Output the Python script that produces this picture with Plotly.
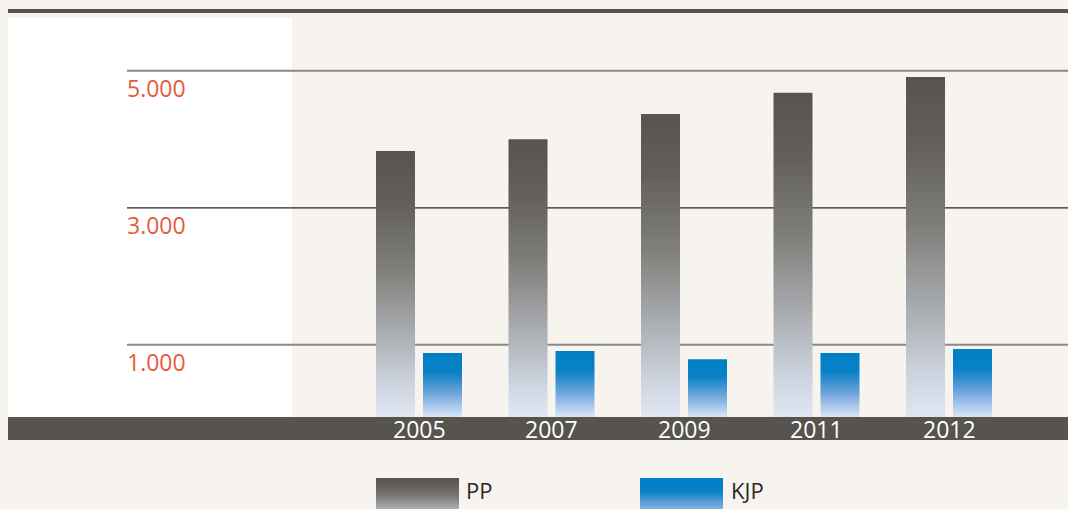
import plotly.graph_objects as go

# ---- data ----
years = ["2005", "2007", "2009", "2011", "2012"]
pp_values = [3830, 4000, 4370, 4680, 4910]
kjp_values = [880, 910, 790, 880, 940]
tick_values = [1000, 3000, 5000]
tick_labels = ["1.000", "3.000", "5.000"]
series_names = ["PP", "KJP"]

# ---- geometry / style ----
W, H = 1068, 509
PX_PER_CAT = 132.5
X0 = -419 / PX_PER_CAT
X1 = X0 + W / PX_PER_CAT
Y_ZERO_PX = 413.3
PX_PER_UNIT = 0.0685
Y_TOP = Y_ZERO_PX / PX_PER_UNIT
Y_BOT = (Y_ZERO_PX - H) / PX_PER_UNIT
BAR_W = 39 / PX_PER_CAT
OFFSET = 23.5 / PX_PER_CAT
BASE = -60

BG = "#f7f4ef"
DARK = "#57534e"
LABEL_RED = "#e85a3e"
FONT = "Open Sans"

PP_SCALE = [[0.0, "#e0e7f3"], [0.12, "#ced5e0"], [0.32, "#a9acb0"],
            [0.56, "#7f7e7a"], [0.80, "#63605b"], [1.0, "#57534e"]]
KJP_SCALE = [[0.0, "#dbe8f8"], [0.35, "#76a9dd"], [0.70, "#0a80c6"], [1.0, "#0080c5"]]


def px(xp):
    return xp / W


def py(yp):
    return 1 - yp / H


fig = go.Figure()


def add_bar(xc, val, scale):
    xl, xr = xc - BAR_W / 2, xc + BAR_W / 2
    fig.add_trace(go.Scatter(
        x=[xl, xr, xr, xl, xl], y=[BASE, BASE, val, val, BASE],
        mode="lines", line=dict(width=0), fill="toself",
        fillgradient=dict(type="vertical", colorscale=scale),
        hoverinfo="skip", showlegend=False))


for i, (p, k) in enumerate(zip(pp_values, kjp_values)):
    add_bar(i - OFFSET, p, PP_SCALE)
    add_bar(i + OFFSET, k, KJP_SCALE)

# legend swatches in pixel space (xaxis2 / yaxis2)
for (x_l, x_r), scale in [((376, 459), PP_SCALE), ((640, 723), KJP_SCALE)]:
    yt, yb = H - 478, H - 522
    fig.add_trace(go.Scatter(
        x=[x_l, x_r, x_r, x_l, x_l], y=[yb, yb, yt, yt, yb],
        xaxis="x2", yaxis="y2",
        mode="lines", line=dict(width=0), fill="toself",
        fillgradient=dict(type="vertical", colorscale=scale),
        hoverinfo="skip", showlegend=False))

shapes = [
    # white panel
    dict(type="rect", xref="paper", yref="paper", x0=px(8), x1=px(292), y0=py(417), y1=py(18),
         fillcolor="white", line=dict(width=0), layer="below"),
    # top rule
    dict(type="rect", xref="paper", yref="paper", x0=px(8), x1=1, y0=py(13), y1=py(9),
         fillcolor=DARK, line=dict(width=0), layer="above"),
    # bottom band
    dict(type="rect", xref="paper", yref="paper", x0=px(8), x1=1, y0=py(440), y1=py(417),
         fillcolor="#57534f", line=dict(width=0), layer="above"),
]
grid_styles = {1000: ("#8c8985", 2), 3000: ("#2b2725", 1.3), 5000: ("#8c8985", 2)}
for v in tick_values:
    c, w = grid_styles[v]
    shapes.append(dict(type="line", xref="paper", yref="y", x0=px(127), x1=1, y0=v, y1=v,
                       line=dict(color=c, width=w), layer="below"))

annotations = []
for v, t in zip(tick_values, tick_labels):
    annotations.append(dict(x=px(125), xref="paper", y=v, yref="y", yshift=-17.5,
                            text=t, showarrow=False, xanchor="left", yanchor="middle",
                            font=dict(family=FONT, size=23, color=LABEL_RED)))
for i, yr in enumerate(years):
    annotations.append(dict(x=i, xref="x", y=py(429), yref="paper", text=yr, showarrow=False,
                            xanchor="center", yanchor="middle",
                            font=dict(family=FONT, size=23, color="white")))
for name, xp in zip(series_names, [464, 729]):
    annotations.append(dict(x=px(xp), xref="paper", y=py(490), yref="paper", text=name,
                            showarrow=False, xanchor="left", yanchor="middle",
                            font=dict(family=FONT, size=22, color="#2b2825")))

fig.update_layout(
    width=W, height=H, margin=dict(l=0, r=0, t=0, b=0, pad=0),
    paper_bgcolor=BG, plot_bgcolor="rgba(0,0,0,0)",
    showlegend=False,
    xaxis=dict(range=[X0, X1], visible=False, fixedrange=True),
    yaxis=dict(range=[Y_BOT, Y_TOP], visible=False, fixedrange=True),
    xaxis2=dict(range=[0, W], visible=False, overlaying="x", fixedrange=True),
    yaxis2=dict(range=[0, H], visible=False, overlaying="y", fixedrange=True),
    shapes=shapes, annotations=annotations,
)

fig.write_html("out.html", config={"displayModeBar": False},
               post_script="document.body.style.margin='0';")
